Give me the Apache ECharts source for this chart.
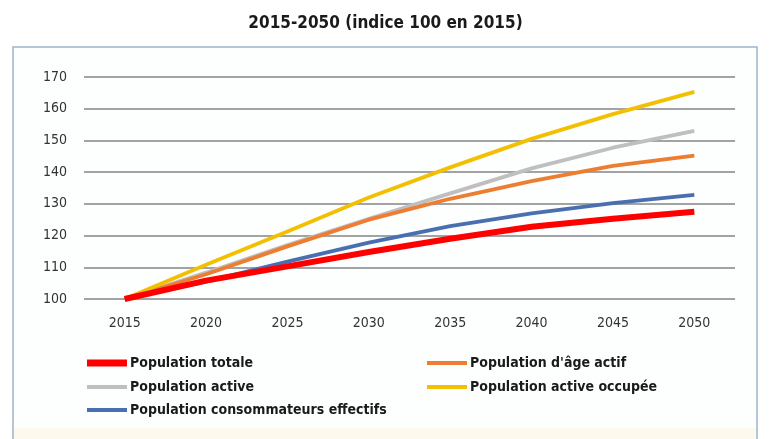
<!DOCTYPE html>
<html>
<head>
<meta charset="utf-8">
<script src="https://cdn.jsdelivr.net/npm/echarts@6/dist/echarts.min.js"></script>
<style>
  html, body { margin: 0; padding: 0; background: #ffffff; }
  #chart { width: 771px; height: 439px; }
</style>
</head>
<body>
<div id="chart"></div>
<script>
// Years on the horizontal axis
const years = ['2015', '2020', '2025', '2030', '2035', '2040', '2045', '2050'];

// Index values (base 100 in 2015)
const populationTotale = [100, 105.8, 110.3, 114.8, 119.0, 122.8, 125.3, 127.5];
const populationAgeActif = [100, 107.8, 116.6, 125.0, 131.6, 137.2, 142.0, 145.2];
const populationActive = [100, 108.3, 117.0, 125.3, 133.3, 141.2, 147.7, 153.0];
const populationActiveOccupee = [100, 110.8, 121.3, 132.0, 141.5, 150.5, 158.3, 165.3];
const populationConsommateurs = [100, 105.5, 111.8, 117.8, 123.0, 127.0, 130.2, 132.8];

const seriesNames = [
  'Population totale',
  "Population d'âge actif",
  'Population active',
  'Population active occupée',
  'Population consommateurs effectifs'
];

const FONT = "'Liberation Sans Narrow', 'DejaVu Sans Condensed', 'Liberation Sans', sans-serif";

const chart = echarts.init(document.getElementById('chart'), null, { renderer: 'canvas' });

function line(name, data, color, width, z) {
  return {
    name: name,
    type: 'line',
    data: data,
    symbol: 'none',
    smooth: false,
    z: z,
    lineStyle: { color: color, width: width, cap: 'butt' },
    itemStyle: { color: color }
  };
}

function legendItem(name, left, top, h) {
  return {
    data: [name],
    left: left,
    top: top,
    icon: 'rect',
    itemWidth: 40,
    itemHeight: h,
    itemGap: 0,
    padding: 0,
    textStyle: { fontFamily: FONT, fontWeight: 'bold', fontSize: 14, color: '#1a1a1a', padding: [0, 0, 0, -2] },
    selectedMode: false
  };
}

chart.setOption({
  animation: false,
  backgroundColor: '#ffffff',
  title: {
    text: '2015-2050 (indice 100 en 2015)',
    left: 'center',
    top: 10,
    textStyle: { fontFamily: FONT, fontWeight: 'bold', fontSize: 17, color: '#1a1a1a' }
  },
  graphic: [
    {
      type: 'rect',
      shape: { x: 13, y: 47, width: 744, height: 400 },
      style: { fill: '#fdfefe', stroke: '#9db5c9', lineWidth: 1.5 },
      z: -10
    },
    {
      type: 'rect',
      shape: { x: 14, y: 428, width: 742, height: 12 },
      style: { fill: '#fdf9ec' },
      z: -9
    }
  ],
  legend: [
    legendItem(seriesNames[0], 87, 356, 7),
    legendItem(seriesNames[1], 427, 356, 4),
    legendItem(seriesNames[2], 87, 380, 4),
    legendItem(seriesNames[3], 427, 380, 4),
    legendItem(seriesNames[4], 87, 403, 4)
  ],
  grid: { left: 84, right: 36, top: 77, height: 222, containLabel: false },
  xAxis: {
    type: 'category',
    data: years,
    boundaryGap: true,
    axisLine: { show: false },
    axisTick: { show: false },
    axisLabel: { fontFamily: FONT, fontSize: 14, color: '#333333', margin: 17 }
  },
  yAxis: {
    type: 'value',
    min: 100,
    max: 170,
    interval: 10,
    axisLine: { show: false },
    axisTick: { show: false },
    axisLabel: { fontFamily: FONT, fontSize: 14, color: '#333333', margin: 17 },
    splitLine: { lineStyle: { color: '#858585', width: 1.5 } }
  },
  series: [
    line(seriesNames[0], populationTotale, '#ff0000', 6, 10),
    line(seriesNames[1], populationAgeActif, '#ed7d31', 3.8, 6),
    line(seriesNames[2], populationActive, '#bfbfbf', 3.8, 5),
    line(seriesNames[3], populationActiveOccupee, '#f2c000', 3.8, 7),
    line(seriesNames[4], populationConsommateurs, '#4a6fb0', 3.8, 8)
  ]
});
</script>
</body>
</html>
